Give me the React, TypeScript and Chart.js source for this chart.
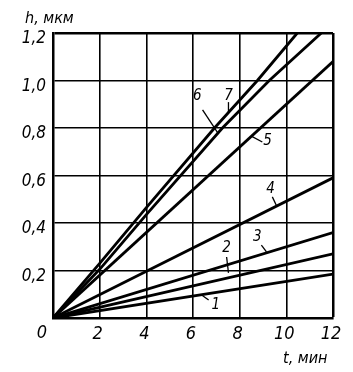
import React, { useEffect, useRef } from 'react';
import { Chart, registerables } from 'chart.js';

Chart.register(...registerables);

// ---- data ----
const xTicks = [0, 2, 4, 6, 8, 10, 12];
const yTicks = [0, 0.2, 0.4, 0.6, 0.8, 1.0, 1.2];
const curveNames = ['1', '2', '3', '4', '5', '6', '7'];

const curve1T = [0, 12];
const curve1H = [0, 0.185];
const curve2T = [0, 12];
const curve2H = [0, 0.27];
const curve3T = [0, 12];
const curve3H = [0, 0.36];
const curve4T = [0, 12];
const curve4H = [0, 0.59];
const curve5T = [0, 12];
const curve5H = [0, 1.08];
const curve6T = [0, 2, 4, 7.26, 9.27, 11.5];
const curve6H = [0, 0.205, 0.435, 0.8, 1.0, 1.2];
const curve7T = [0, 2, 4, 6.92, 8.76, 10.47];
const curve7H = [0, 0.23, 0.465, 0.8, 1.0, 1.2];

const curvesT = [curve1T, curve2T, curve3T, curve4T, curve5T, curve6T, curve7T];
const curvesH = [curve1H, curve2H, curve3H, curve4H, curve5H, curve6H, curve7H];

// ---- label placement (data units) ----
const labelPos = [
  { t: 6.98, h: 0.055, st: 6.67, sh: 0.076, et: 6.37, eh: 0.097 },
  { t: 7.44, h: 0.295, st: 7.44, sh: 0.257, et: 7.52, eh: 0.19 },
  { t: 8.76, h: 0.341, st: 8.93, sh: 0.307, et: 9.15, eh: 0.278 },
  { t: 9.32, h: 0.543, st: 9.4, sh: 0.51, et: 9.57, eh: 0.475 },
  { t: 9.19, h: 0.745, st: 8.97, sh: 0.741, et: 8.5, eh: 0.766 },
  { t: 6.18, h: 0.933, st: 6.41, sh: 0.876, et: 7.09, eh: 0.775 },
  { t: 7.52, h: 0.933, st: 7.52, sh: 0.909, et: 7.52, eh: 0.865 },
];

const FONT = "'DejaVu Sans Condensed', 'DejaVu Sans', sans-serif";

const fmt = (v: number) => v.toFixed(1).replace('.', ',');

const annotations = {
  id: 'annotations',
  afterDraw(chart: any) {
    const { ctx, chartArea, scales } = chart;
    const xs = scales.x;
    const ys = scales.y;
    ctx.save();
    ctx.fillStyle = '#000';
    ctx.strokeStyle = '#000';
    // origin label
    ctx.font = `italic 18px ${FONT}`;
    ctx.textAlign = 'center';
    ctx.textBaseline = 'middle';
    ctx.fillText('0', xs.getPixelForValue(0) - 11, chartArea.bottom + 15);
    // axis titles
    ctx.font = `italic 16px ${FONT}`;
    ctx.textAlign = 'left';
    ctx.fillText('h, мкм', chartArea.left - 28, chartArea.top - 14);
    ctx.fillText('t, мин', chartArea.right - 50, chartArea.bottom + 41);
    // curve labels with leaders
    ctx.font = `italic 15px ${FONT}`;
    ctx.textAlign = 'center';
    ctx.lineWidth = 1.3;
    labelPos.forEach((p, i) => {
      ctx.fillText(curveNames[i], xs.getPixelForValue(p.t), ys.getPixelForValue(p.h));
      ctx.beginPath();
      ctx.moveTo(xs.getPixelForValue(p.st), ys.getPixelForValue(p.sh));
      ctx.lineTo(xs.getPixelForValue(p.et), ys.getPixelForValue(p.eh));
      ctx.stroke();
    });
    ctx.restore();
  },
};

export default function App() {
  const ref = useRef<HTMLCanvasElement>(null);
  useEffect(() => {
    if (!ref.current) return;
    const chart = new Chart(ref.current, {
      type: 'line',
      data: {
        datasets: curveNames.map((name, i) => ({
          label: name,
          data: curvesT[i].map((t, j) => ({ x: t, y: curvesH[i][j] })),
          borderColor: '#000',
          borderWidth: 2.8,
          pointRadius: 0,
          tension: 0,
          fill: false,
        })),
      },
      options: {
        animation: false,
        responsive: false,
        devicePixelRatio: 1,
        layout: { padding: { top: 33, right: 20, left: 0, bottom: 0 } },
        plugins: {
          legend: { display: false },
          tooltip: { enabled: false },
          title: { display: false },
        },
        scales: {
          x: {
            type: 'linear',
            min: xTicks[0],
            max: xTicks[xTicks.length - 1],
            afterBuildTicks: (s: any) => {
              s.ticks = xTicks.map((v) => ({ value: v }));
            },
            afterFit: (s: any) => {
              s.height = 54;
            },
            grid: {
              color: '#000',
              lineWidth: (c: any) => (c.tick && c.tick.value === 12 ? 2.5 : 1.6),
              drawTicks: false,
            },
            border: { display: true, color: '#000', width: 2.5 },
            ticks: {
              color: '#000',
              padding: 6,
              labelOffset: -2,
              maxRotation: 0,
              autoSkip: false,
              font: { family: FONT, size: 18, style: 'italic' },
              callback: (v: any) => (v === 0 ? '' : String(v)),
            },
          },
          y: {
            type: 'linear',
            min: yTicks[0],
            max: yTicks[yTicks.length - 1],
            afterBuildTicks: (s: any) => {
              s.ticks = yTicks.map((v) => ({ value: v }));
            },
            afterFit: (s: any) => {
              s.width = 53;
            },
            grid: {
              color: '#000',
              lineWidth: (c: any) => (c.tick && Math.abs(c.tick.value - 1.2) < 1e-6 ? 2.5 : 1.6),
              drawTicks: false,
            },
            border: { display: true, color: '#000', width: 2.5 },
            ticks: {
              color: '#000',
              padding: 7,
              labelOffset: 6,
              autoSkip: false,
              font: { family: FONT, size: 17, style: 'italic' },
              callback: (v: any) => (v === 0 ? '' : fmt(Number(v))),
            },
          },
        },
      },
      plugins: [annotations],
    });
    return () => chart.destroy();
  }, []);
  return (
    <div style={{ position: 'absolute', left: 0, top: 0, width: 353, height: 372, background: '#fff' }}>
      <canvas ref={ref} width={353} height={372} style={{ display: 'block' }} />
    </div>
  );
}
